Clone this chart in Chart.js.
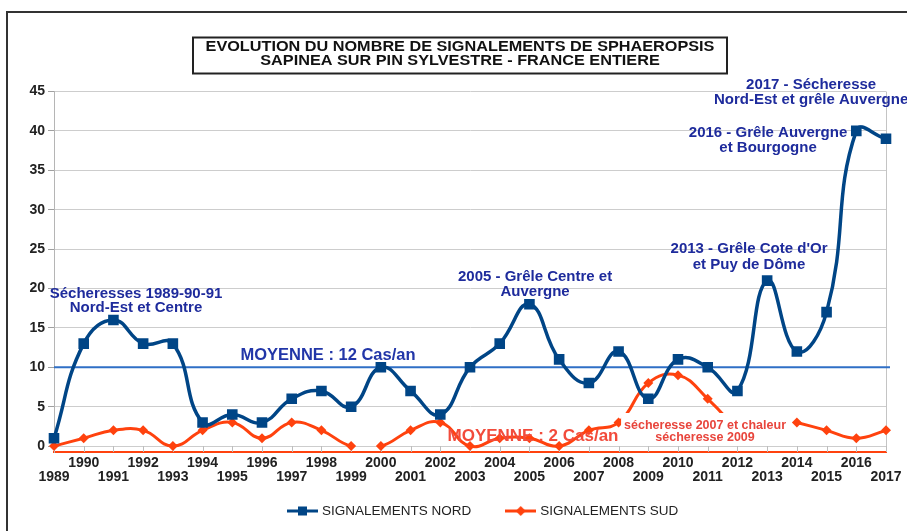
<!DOCTYPE html>
<html>
<head>
<meta charset="utf-8">
<script src="https://cdn.jsdelivr.net/npm/chart.js@4.4.1/dist/chart.umd.min.js"></script>
<style>
  html, body { margin: 0; padding: 0; background: #fff; overflow: hidden; width: 907px; height: 531px; }
  #frame { position: absolute; left: 6px; top: 11px; width: 1000px; height: 600px; border: 2px solid #333; }
  #wrap { position: absolute; left: 0; top: 0; width: 967px; height: 531px; }
</style>
</head>
<body>
<div id="frame"></div>
<div id="wrap"><canvas id="chart" width="967" height="531"></canvas></div>
<script>
const years = ["1989", "1990", "1991", "1992", "1993", "1994", "1995", "1996", "1997", "1998",
  "1999", "2000", "2001", "2002", "2003", "2004", "2005", "2006", "2007", "2008",
  "2009", "2010", "2011", "2012", "2013", "2014", "2015", "2016", "2017"];

const nord = [1, 13, 16, 13, 13, 3, 4, 3, 6, 7, 5, 10, 7, 4, 10, 13, 18, 11, 8, 12, 6, 11, 10, 7, 21, 12, 17, 40, 39];
const sud = [0, 1, 2, 2, 0, 2, 3, 1, 3, 2, 0, 0, 2, 3, 0, 1, 1, 0, 2, 3, 8, 9, 6, 2, null, 3, 2, 1, 2];

// no line drawn between 1999 and 2000 for the south series
const sudGapAfter = [10];

const yTickValues = [0, 5, 10, 15, 20, 25, 30, 35, 40, 45];
const moyenneNord = 10;

const titleLines = ["EVOLUTION DU NOMBRE DE SIGNALEMENTS DE SPHAEROPSIS", "SAPINEA SUR PIN SYLVESTRE - FRANCE ENTIERE"];

// annotations, placed in axis units (x = year index, y = value of first line)
const notes = [
  { lines: ["Sécheresses 1989-90-91", "Nord-Est et Centre"], x: 2.76, y: 19.3, gap: 14, kind: "blue" },
  { lines: ["MOYENNE : 12 Cas/an"], x: 9.22, y: 11.56, gap: 0, kind: "meanBlue" },
  { lines: ["2005 - Grêle Centre et", "Auvergne"], x: 16.19, y: 21.46, gap: 15, kind: "blue" },
  { lines: ["2013 - Grêle Cote d'Or", "et Puy de Dôme"], x: 23.39, y: 25.0, gap: 16, kind: "blue" },
  { lines: ["2016 - Grêle Auvergne", "et Bourgogne"], x: 24.03, y: 39.73, gap: 15, kind: "blue" },
  { lines: ["2017 - Sécheresse", "Nord-Est et grêle Auvergne"], x: 25.48, y: 45.85, gap: 15, kind: "blue" },
  { lines: ["MOYENNE : 2 Cas/an"], x: 16.12, y: 1.28, gap: 0, kind: "meanRed" },
  { lines: ["sécheresse 2007 et chaleur", "sécheresse 2009"], x: 21.91, y: 2.55, gap: 12, kind: "redBox" }
];

const noteStyles = {
  blue: { font: "bold 15px 'Liberation Sans'", color: "#1e2b9c" },
  meanBlue: { font: "bold 16.5px 'Liberation Sans'", color: "#2236a8" },
  meanRed: { font: "bold 17px 'Liberation Sans'", color: "#f24b3b" },
  redBox: { font: "bold 12.5px 'Liberation Sans'", color: "#e8453c", box: true }
};

const NORD_COLOR = "#004586";
const SUD_COLOR = "#ff420e";

function legendMark(color, shape) {
  const c = document.createElement("canvas");
  c.width = 31;
  c.height = 12;
  const g = c.getContext("2d");
  g.strokeStyle = color;
  g.lineWidth = 3;
  g.beginPath();
  g.moveTo(0, 6);
  g.lineTo(31, 6);
  g.stroke();
  g.fillStyle = color;
  if (shape === "square") {
    g.fillRect(11, 1.5, 9, 9);
  } else {
    g.beginPath();
    g.moveTo(15.5, 1);
    g.lineTo(20.5, 6);
    g.lineTo(15.5, 11);
    g.lineTo(10.5, 6);
    g.closePath();
    g.fill();
  }
  return c;
}
const legendMarks = [legendMark(NORD_COLOR, "square"), legendMark(SUD_COLOR, "diamond")];

const backgroundPlugin = {
  id: "background",
  beforeDatasetsDraw(chart) {
    const { ctx, chartArea, scales: { x, y } } = chart;
    ctx.save();
    // right border of the plot
    ctx.strokeStyle = "#c4c4c4";
    ctx.lineWidth = 1;
    ctx.beginPath();
    ctx.moveTo(Math.round(chartArea.right) + 0.5, chartArea.top);
    ctx.lineTo(Math.round(chartArea.right) + 0.5, chartArea.bottom);
    ctx.stroke();
    // small year ticks under the zero line
    const y0 = y.getPixelForValue(0);
    ctx.strokeStyle = "#bdbdbd";
    years.forEach((_, i) => {
      const px = Math.round(x.getPixelForValue(i)) + 0.5;
      ctx.beginPath();
      ctx.moveTo(px, y0);
      ctx.lineTo(px, chartArea.bottom);
      ctx.stroke();
    });
    // average line for the north series
    const ym = y.getPixelForValue(moyenneNord);
    ctx.strokeStyle = "#2f6fc6";
    ctx.lineWidth = 2;
    ctx.beginPath();
    ctx.moveTo(chartArea.left, ym);
    ctx.lineTo(chartArea.right + 4, ym);
    ctx.stroke();
    ctx.restore();
  }
};

const notesPlugin = {
  id: "notes",
  afterDatasetsDraw(chart) {
    const { ctx, scales: { x, y } } = chart;
    ctx.save();
    ctx.textAlign = "center";
    ctx.textBaseline = "middle";
    notes.forEach(n => {
      const st = noteStyles[n.kind];
      const cx = x.getPixelForValue(n.x);
      const cy = y.getPixelForValue(n.y);
      ctx.font = st.font;
      if (st.box) {
        const w = Math.max(...n.lines.map(l => ctx.measureText(l).width)) + 6;
        ctx.fillStyle = "#fff";
        ctx.fillRect(cx - w / 2, cy - 13, w, n.gap * (n.lines.length - 1) + 20);
      }
      ctx.fillStyle = st.color;
      n.lines.forEach((l, i) => ctx.fillText(l, cx, cy + i * n.gap));
    });
    ctx.restore();
  },
  afterDraw(chart) {
    const { ctx } = chart;
    ctx.save();
    ctx.strokeStyle = "#222";
    ctx.lineWidth = 2;
    ctx.strokeRect(193, 37.5, 534, 36);
    ctx.fillStyle = "#111";
    ctx.font = "bold 14px 'Liberation Sans'";
    ctx.textAlign = "center";
    ctx.textBaseline = "middle";
    // the title lettering is wide and short in the reference
    titleLines.forEach((l, i) => {
      ctx.save();
      ctx.translate(460, 47.5 + i * 14);
      ctx.scale(1.16, 1);
      ctx.fillText(l, 0, 0);
      ctx.restore();
    });
    ctx.restore();
  }
};

// put the legend row where the reference has it (below the two rows of years)
const legendShiftPlugin = {
  id: "legendShift",
  afterLayout(chart) {
    const lg = chart.legend;
    lg.left += 41;
    lg.right += 41;
    lg.top = 467.5;
    lg.bottom = 531;
    lg.height = lg.bottom - lg.top;
  }
};

const axisFont = { family: "Liberation Sans", weight: "bold", size: 14, lineHeight: 1 };

new Chart(document.getElementById("chart"), {
  type: "line",
  data: {
    labels: years,
    datasets: [
      {
        label: "SIGNALEMENTS NORD",
        data: nord,
        borderColor: NORD_COLOR,
        backgroundColor: NORD_COLOR,
        borderWidth: 3.5,
        tension: 0.45,
        pointStyle: "rect",
        pointRadius: 7.5,
        pointHoverRadius: 7.5,
        pointBorderWidth: 0
      },
      {
        label: "SIGNALEMENTS SUD",
        data: sud,
        borderColor: SUD_COLOR,
        backgroundColor: SUD_COLOR,
        borderWidth: 3,
        tension: 0.45,
        pointStyle: "rectRot",
        pointRadius: 5,
        pointHoverRadius: 5,
        pointBorderWidth: 0,
        segment: {
          borderColor: c => (sudGapAfter.includes(c.p0DataIndex) ? "rgba(0,0,0,0)" : undefined)
        }
      }
    ]
  },
  options: {
    responsive: false,
    animation: false,
    devicePixelRatio: 1,
    layout: { padding: { top: 91.5, right: 81, left: 0, bottom: 4 } },
    scales: {
      x: {
        offset: false,
        afterFit: s => { s.height = 42; },
        grid: { display: false },
        border: { display: true, color: SUD_COLOR, width: 2 },
        ticks: {
          autoSkip: false,
          maxRotation: 0,
          minRotation: 0,
          padding: -3.5,
          color: "#222",
          font: axisFont,
          callback: (v, i) => (i % 2 === 0 ? ["", years[i]] : [years[i], ""])
        }
      },
      y: {
        min: -0.75,
        max: 45,
        afterBuildTicks: s => { s.ticks = yTickValues.map(v => ({ value: v })); },
        afterFit: s => { s.width = 54; },
        grid: { color: "#cdcdcd", lineWidth: 1, tickLength: 6, tickColor: "#a0a0a0" },
        border: { display: true, color: "#b5b5b5" },
        ticks: { padding: 3, color: "#222", font: axisFont }
      }
    },
    plugins: {
      tooltip: { enabled: false },
      legend: {
        position: "bottom",
        maxHeight: 33,
        labels: {
          usePointStyle: true,
          pointStyleWidth: 25.5,
          padding: 36.75,
          color: "#222",
          font: { family: "Liberation Sans", size: 13.5 },
          generateLabels: chart =>
            Chart.defaults.plugins.legend.labels.generateLabels(chart).map(l => ({
              ...l,
              pointStyle: legendMarks[l.datasetIndex]
            }))
        }
      }
    }
  },
  plugins: [backgroundPlugin, notesPlugin, legendShiftPlugin]
});
</script>
</body>
</html>
